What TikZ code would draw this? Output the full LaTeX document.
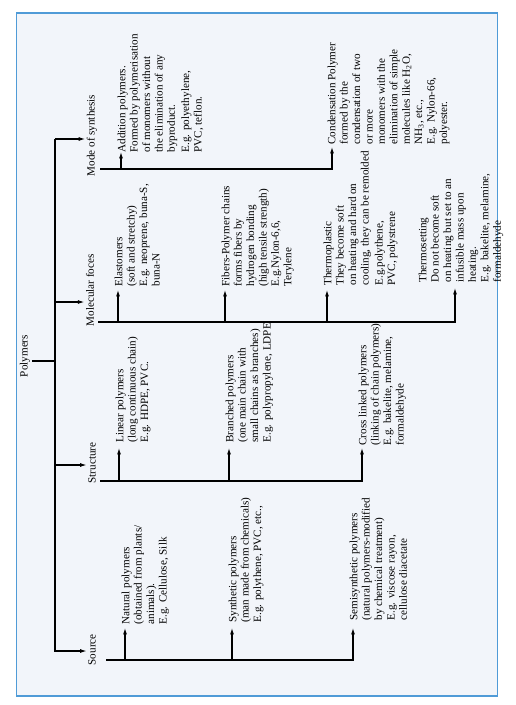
\documentclass[tikz,border=0pt]{standalone}
\usepackage{fontspec}
\setmainfont{Liberation Serif}
\usetikzlibrary{arrows.meta}
\definecolor{panelfill}{RGB}{242,245,250}
\definecolor{panelline}{RGB}{80,155,215}
\begin{document}
\begin{tikzpicture}[x=0.03cm,y=-0.03cm,line width=0.9pt,
  arr/.style={-{Latex[length=5.5pt,width=3.4pt]}},
  cat/.style={rotate=90,anchor=west,inner sep=1pt,font=\fontsize{9.5}{10.6}\selectfont},
  leaf/.style={rotate=90,anchor=north west,inner sep=0pt,align=left,font=\fontsize{9.5}{10.6}\selectfont}]
\useasboundingbox (0,0) rectangle (516,705);
\draw[panelline,fill=panelfill,line width=1pt] (16.5,13) rectangle (497.5,696);
% trunk
\node[rotate=90,inner sep=1pt,font=\fontsize{9.5}{10.6}\selectfont] (poly) at (25,356) {Polymers};
\coordinate (t_1) at (55,139);
\coordinate (t_2) at (55,302);
\coordinate (t_3) at (55,465);
\coordinate (t_4) at (55,651);
\coordinate (t_p) at (55,361);
\node[cat] (mode) at (92,178) {Mode of synthesis};
\node[cat] (molec) at (90,328) {Molecular foces};
\node[cat] (struct) at (92,485) {Structure};
\node[cat] (source) at (92,667) {Source};
\draw (t_p -| poly.south) -- (t_p);
\draw[arr] (t_1) -- (t_4) -- (t_4 -| source.north);
\draw[arr] (t_1) -- (t_1 -| mode.north);
\draw[arr] (t_2) -- (t_2 -| molec.north);
\draw[arr] (t_3) -- (t_3 -| struct.north);
% mode of synthesis
\coordinate (b_1) at (100,169);
\coordinate (addT) at (121,152);
\coordinate (condT) at (332,147);
\node[leaf] (add) at (117,153) {Addition polymers.\\Formed by polymerisation\\of monomers without\\the elimination of any\\byproduct.\\[1.5pt]E.g. polyethylene,\\PVC, teflon.};
\node[leaf] (cond) at (327,145) {Condensation Polymer\\formed by the\\condensation of two\\or more\\monomers with the\\elimination of simple\\molecules like H\textsubscript{2}O,\\NH\textsubscript{3}, etc.,\\E.g. Nylon-66,\\polyester.};
\draw[arr] (b_1) -| (condT);
\draw[arr] (addT |- b_1) -- (addT);
% molecular foces
\coordinate (b_2) at (98,322);
\coordinate (elastT) at (118,290);
\coordinate (fiberT) at (225,290);
\coordinate (tplastT) at (327,290);
\coordinate (tsetT) at (455,288);
\node[leaf] (elast) at (114,287) {Elastomers\\(soft and stretchy)\\E.g. neoprene, buna-S,\\buna-N};
\node[leaf] (fiber) at (221,287) {Fibers-Polymer chains\\forms fibers by\\hydrogen bonding\\(high tensile strength)\\E.g.Nylon-6,6,\\Terylene};
\node[leaf] (tplast) at (323,286) {Thermoplastic\\They become soft\\on heating and hard on\\cooling, they can be remolded\\[1.5pt]E.g.polythene,\\PVC, polystrene};
\node[leaf] (tset) at (418,283) {Thermosetting\\Do not become soft\\on heating but set to an\\infusible mass upon\\heating.\\E.g. bakelite, melamine,\\formaldehyde};
\draw[arr] (b_2) -| (tsetT);
\draw[arr] (elastT |- b_2) -- (elastT);
\draw[arr] (fiberT |- b_2) -- (fiberT);
\draw[arr] (tplastT |- b_2) -- (tplastT);
% structure
\coordinate (b_3) at (100,481);
\coordinate (linT) at (119,448);
\coordinate (branchT) at (229,448);
\coordinate (crossT) at (362,448);
\node[leaf] (lin) at (115,443) {Linear polymers\\(long continuous chain)\\E.g. HDPE, PVC.};
\node[leaf] (branch) at (225,443) {Branched polymers\\(one main chain with\\small chains as branches)\\E.g. polypropylene, LDPE.};
\node[leaf] (cross) at (358,446) {Cross linked polymers\\(linking of chain polymers)\\E.g. bakelite, melamine,\\formaldehyde};
\draw[arr] (b_3) -| (crossT);
\draw[arr] (linT |- b_3) -- (linT);
\draw[arr] (branchT |- b_3) -- (branchT);
% source
\coordinate (b_4) at (106,660);
\coordinate (natT) at (125,628);
\coordinate (synT) at (232,628);
\coordinate (semiT) at (353,628);
\node[leaf] (nat) at (121,625) {Natural polymers\\(obtained from plants/\\animals).\\E.g. Cellulose, Silk};
\node[leaf] (syn) at (228,623) {Synthetic polymers\\(man made from chemicals)\\E.g. polythene, PVC, etc.,};
\node[leaf] (semi) at (349,621) {Semisynthetic polymers\\(natural polymers-modified\\by chemical treatment)\\E.g. viscose rayon,\\cellulose diacetate};
\draw[arr] (b_4) -| (semiT);
\draw[arr] (natT |- b_4) -- (natT);
\draw[arr] (synT |- b_4) -- (synT);
\end{tikzpicture}
\end{document}
